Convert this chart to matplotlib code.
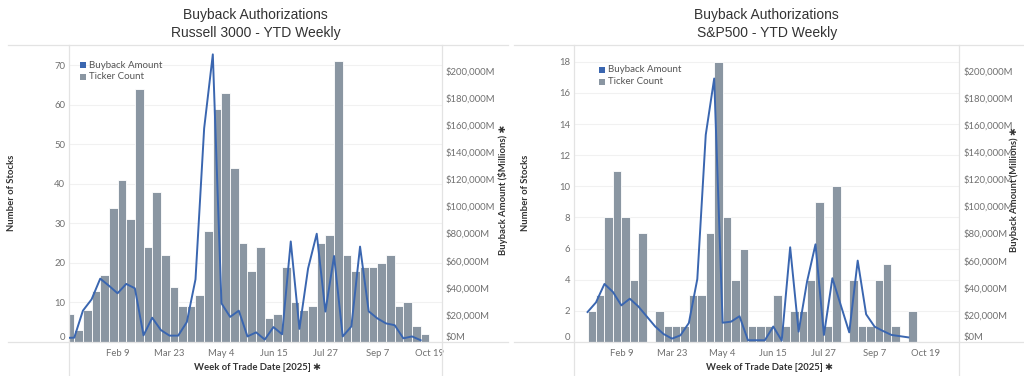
import matplotlib
matplotlib.use("Agg")
import matplotlib.pyplot as plt
from matplotlib.lines import Line2D
from matplotlib.patches import Rectangle
from matplotlib.ticker import FuncFormatter, MultipleLocator
import pandas as pd

# ---------------- data ----------------
r3000_weeks = pd.date_range("2024-12-29", periods=42, freq="7D")
r3000_counts = [7, 3, 8, 13, 17, 34, 41, 31, 64, 24, 38, 22, 14, 9, 9, 12, 28, 59, 63, 44,
                25, 18, 24, 6, 7, 19, 10, 8, 9, 25, 27, 71, 22, 18, 19, 19, 20, 22, 9, 10, 4, 2]
r3000_amount = [3000, 3200, 23100, 31400, 46700, 41500, 35900, 42800, 39600, 4900,
                17900, 8800, 4700, 4700, 14700, 46200, 157500, 212000, 28500, 18500,
                23100, 4100, 7100, 1800, 11000, 5700, 74100, 9700, 54200, 79800,
                22400, 63400, 4100, 11500, 70300, 22600, 17400, 13700, 12400, 2700,
                4100, 1300]

sp500_weeks = pd.to_datetime([
    "2025-01-12", "2025-01-19", "2025-01-26", "2025-02-02", "2025-02-09", "2025-02-16",
    "2025-02-23", "2025-03-09", "2025-03-16", "2025-03-23", "2025-03-30", "2025-04-06",
    "2025-04-13", "2025-04-20", "2025-04-27", "2025-05-04", "2025-05-11", "2025-05-18",
    "2025-05-25", "2025-06-01", "2025-06-08", "2025-06-15", "2025-06-22", "2025-06-29",
    "2025-07-06", "2025-07-13", "2025-07-20", "2025-07-27", "2025-08-03", "2025-08-17",
    "2025-08-24", "2025-08-31", "2025-09-07", "2025-09-14", "2025-09-21", "2025-10-05"])
sp500_counts = [2, 3, 8, 11, 8, 4, 7, 2, 1, 1, 1, 3, 3, 7, 18, 8, 4, 6, 1, 1, 1, 3, 1, 2,
                2, 4, 9, 1, 10, 4, 1, 1, 4, 5, 1, 2]
sp500_amount = [22100, 29200, 42800, 36900, 27000, 31900, 26300, 11500, 5900, 2500,
                4900, 14000, 46400, 152700, 194200, 14200, 15000, 19000, 1300, 1300,
                1300, 11400, 1000, 69800, 7600, 44500, 72000, 5200, 47000, 7100,
                60000, 20400, 11300, 8100, 5200, 3400]

tick_dates = pd.to_datetime(["2025-02-09", "2025-03-23", "2025-05-04", "2025-06-15",
                             "2025-07-27", "2025-09-07", "2025-10-19"])
tick_labels = ["Feb 9", "Mar 23", "May 4", "Jun 15", "Jul 27", "Sep 7", "Oct 19"]

titles = [("Buyback Authorizations", "Russell 3000 - YTD Weekly"),
          ("Buyback Authorizations", "S&P500 - YTD Weekly")]
right_labels = ["Buyback Amount ($Millions) \u2731", "Buyback Amount (Millions) \u2731"]
x_title = "Week of Trade Date [2025] \u2731"
left_title = "Number of Stocks"
legend_labels = ["Buyback Amount", "Ticker Count"]

# ---------------- style ----------------
W, H = 1024, 376
BAR = "#8a96a2"
LINE = "#3a66b0"
TICK = "#707070"
DARK = "#333333"
FRAME = "#e3e3e3"
GRID = "#f1f1f1"
FONT = ["Lato", "DejaVu Sans"]

plt.rcParams["font.family"] = FONT
fig = plt.figure(figsize=(W / 100, H / 100), dpi=100)


def fx(px):
    return px / W


def fy(py):
    return 1 - py / H


panels = [
    dict(weeks=r3000_weeks, counts=r3000_counts, amount=r3000_amount,
         x0=69.3, x1=441.7, xlim=("2025-01-01", "2025-10-29"), ymax=75.1, ystep=10,
         ylab_x=12, rlab_x=503, xt_x=258, leg=(80, 88.7, 65, 76.7),
         hspan=(8, 508)),
    dict(weeks=sp500_weeks, counts=sp500_counts, amount=sp500_amount,
         x0=574.3, x1=959, xlim=("2025-01-01", "2025-11-16"), ymax=19.08, ystep=2,
         ylab_x=525, rlab_x=1014, xt_x=770, leg=(599, 607.7, 70, 81.7),
         hspan=(514, 1024)),
]

TOP, BASE = 45, 342

for i, p in enumerate(panels):
    ax = fig.add_axes([fx(p["x0"]), fy(BASE), fx(p["x1"] - p["x0"]), (BASE - TOP) / H])
    ax2 = ax.twinx()
    ax.set_zorder(1)
    ax2.set_zorder(2)
    ax.patch.set_visible(False)
    ax2.patch.set_visible(False)

    ax.bar(p["weeks"], p["counts"], width=7, align="edge", color=BAR,
           edgecolor="white", linewidth=0.6, zorder=2)
    ax2.plot(p["weeks"], p["amount"], color=LINE, linewidth=1.4, zorder=3)

    ax.set_xlim(pd.Timestamp(p["xlim"][0]), pd.Timestamp(p["xlim"][1]))
    ax.set_ylim(0, p["ymax"])
    ax2.set_ylim(0, 218900)

    ax.yaxis.set_major_locator(MultipleLocator(p["ystep"]))
    ax2.yaxis.set_major_locator(MultipleLocator(20000))
    ax2.yaxis.set_major_formatter(FuncFormatter(lambda v, pos: f"${v:,.0f}M"))
    ax.set_xticks(tick_dates)
    ax.set_xticklabels(tick_labels)

    ax.grid(axis="y", color=GRID, linewidth=0.8, zorder=0)
    ax.set_axisbelow(True)
    for a in (ax, ax2):
        for s in a.spines.values():
            s.set_visible(False)
    ax.tick_params(axis="both", length=0, labelsize=6.8, colors=TICK)
    ax.tick_params(axis="x", pad=5)
    ax.tick_params(axis="y", pad=3)
    ax2.tick_params(axis="y", length=0, labelsize=6.8, colors=TICK, pad=3)

    fig.canvas.draw()
    for a in (ax, ax2):
        for t in a.get_yticklabels():
            if t.get_position()[1] == 0:
                t.set_verticalalignment("bottom")

    # titles
    cx = (p["x0"] + p["x1"]) / 2
    fig.text(fx(cx), fy(15), titles[i][0], ha="center", va="center", fontsize=10,
             color=DARK, family=["Liberation Sans", "DejaVu Sans"])
    fig.text(fx(cx), fy(32.5), titles[i][1], ha="center", va="center", fontsize=10,
             color=DARK, family=["Liberation Sans", "DejaVu Sans"])

    # axis titles
    fig.text(fx(p["ylab_x"]), fy(193), left_title, rotation=90, ha="center", va="center",
             fontsize=6.8, fontweight="bold", color=DARK)
    fig.text(fx(p["rlab_x"]), fy(190), right_labels[i], rotation=90, ha="center",
             va="center", fontsize=6.8, fontweight="bold", color=DARK)
    fig.text(fx(p["xt_x"]), fy(367), x_title, ha="center", va="center",
             fontsize=6.8, fontweight="bold", color=DARK)

    # frame lines
    h0, h1 = p["hspan"]
    for yy in (TOP, BASE):
        fig.add_artist(Line2D([fx(h0), fx(h1)], [fy(yy), fy(yy)], color=FRAME,
                              linewidth=0.9, transform=fig.transFigure))
    for xx in (p["x0"], p["x1"]):
        fig.add_artist(Line2D([fx(xx), fx(xx)], [fy(TOP), fy(H)], color=FRAME,
                              linewidth=0.9, transform=fig.transFigure))

    # legend
    sq_x, tx, r1, r2 = p["leg"]
    for lab, col, ry in ((legend_labels[0], LINE, r1), (legend_labels[1], BAR, r2)):
        fig.add_artist(Rectangle((fx(sq_x), fy(ry + 2.8)), 5.6 / W, 5.6 / H,
                                 facecolor=col, edgecolor="none",
                                 transform=fig.transFigure, zorder=10))
        fig.text(fx(tx), fy(ry), lab, ha="left", va="center", fontsize=7, color="#555555")

fig.savefig("out.png", dpi=100)
